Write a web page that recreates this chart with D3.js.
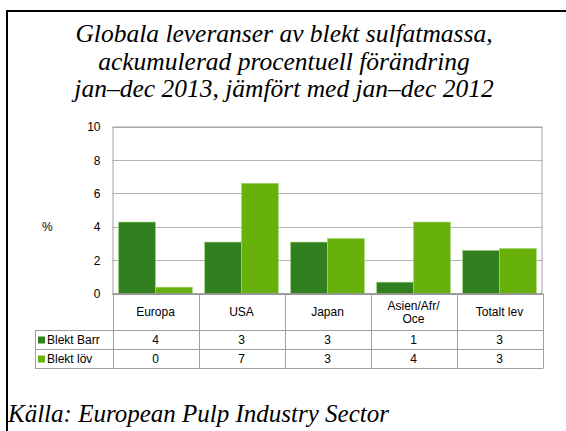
<!DOCTYPE html>
<html><head><meta charset="utf-8">
<script src="https://cdn.jsdelivr.net/npm/d3@7"></script>
</head><body>
<script>
const categories = ["Europa","USA","Japan","Asien/Afr/\nOce","Totalt lev"];
const seriesNames = ["Blekt Barr","Blekt löv"];
const barr = [4.28,3.08,3.08,0.68,2.58];
const lov = [0.38,6.6,3.3,4.28,2.7];
const tableBarr = ["4","3","3","1","3"];
const tableLov = ["0","7","3","4","3"];
const yTicks = [0,2,4,6,8,10];
const colors = ["#31801f","#68b00a"];
const titleLines = ["Globala leveranser av blekt sulfatmassa,","ackumulerad procentuell förändring","jan–dec 2013, jämfört med jan–dec 2012"];
const source = "Källa: European Pulp Industry Sector";

const SERIF='"Liberation Serif", "Tinos", "Times New Roman", serif';
const SANS='"Liberation Sans", Arial, sans-serif';
d3.select("body").style("margin","0px");
const svg=d3.select("body").append("svg").attr("width",566).attr("height",431)
 .style("display","block").attr("font-family",SANS);
svg.append("path").attr("d","M7,431 V11 H566").attr("fill","none").attr("stroke","#000").attr("stroke-width",2);

titleLines.forEach((d,i)=>{
 svg.append("text").attr("x",284).attr("y",42+i*27.5).attr("text-anchor","middle")
  .style("font-family",SERIF).style("font-style","italic").attr("font-size",25.5).text(d);
});
svg.append("text").attr("x",8).attr("y",422)
 .style("font-family",SERIF).style("font-style","italic").attr("font-size",25).text(source);

const pL=112.5,pR=542.5,pT=126.5,pB=293.5;
const x=d3.scaleBand().domain(d3.range(categories.length)).range([pL,pR]);
const y=d3.scaleLinear().domain([0,10]).range([pB,pT]);
const x1=d3.scaleBand().domain([0,1]).range([0,x.bandwidth()]).paddingOuter(0.166).paddingInner(0);

svg.append("g").selectAll("line").data(yTicks).join("line")
 .attr("x1",pL).attr("x2",pR).attr("y1",d=>Math.round(y(d))+0.5).attr("y2",d=>Math.round(y(d))+0.5)
 .attr("stroke","#b3b3b3").attr("stroke-width",1);

const yAxis=svg.append("g").attr("transform",`translate(${pL-12},0)`)
 .call(d3.axisLeft(y).tickValues(yTicks).tickSize(0).tickPadding(0));
yAxis.select(".domain").remove();
yAxis.attr("font-family",SANS).attr("font-size",12);
yAxis.selectAll("text").style("font-family",SANS).attr("fill","#000").attr("dy","0.35em");

svg.append("text").style("font-family",SANS).attr("font-size",12).attr("x",42).attr("y",231).text("%");

[barr,lov].forEach((vals,si)=>{
 svg.append("g").selectAll("rect").data(vals).join("rect")
  .attr("x",(d,i)=>x(i)+x1(si)).attr("width",x1.bandwidth())
  .attr("y",d=>y(d)).attr("height",d=>pB-y(d))
  .attr("fill",colors[si]).attr("stroke","#a6d77a").attr("stroke-width",0.6);
});

svg.append("rect").attr("x",pL+0.5).attr("y",pT+0.5).attr("width",pR-pL-1).attr("height",pB-pT)
 .attr("fill","none").attr("stroke","#a0a0a0").attr("stroke-width",1);
svg.append("line").attr("x1",pL).attr("x2",pR).attr("y1",pB+0.5).attr("y2",pB+0.5).attr("stroke","#909090").attr("stroke-width",1.5);

const tLeft=35,r1=330.5,r2=349.5,r3=368.5;
const tg=svg.append("g").attr("stroke","#a0a0a0").attr("stroke-width",1).attr("fill","none");
d3.range(categories.length+1).forEach(i=>{
 const xx=Math.round(i<categories.length?x(i):pR)+0.5;
 tg.append("line").attr("x1",xx).attr("x2",xx).attr("y1",pB).attr("y2",r3);
});
tg.append("line").attr("x1",tLeft+0.5).attr("x2",tLeft+0.5).attr("y1",r1).attr("y2",r3);
[r1,r2,r3].forEach(r=>tg.append("line").attr("x1",tLeft).attr("x2",pR+0.5).attr("y1",r).attr("y2",r));

categories.forEach((c,i)=>{
 const lines=c.split("\n");
 const cy=(pB+r1)/2;
 const t=svg.append("text").style("font-family",SANS).attr("font-size",12).attr("text-anchor","middle");
 lines.forEach((l,j)=>{
  t.append("tspan").attr("x",x(i)+x.bandwidth()/2).attr("y",cy+(j-(lines.length-1)/2)*13).attr("dy","0.35em").text(l);
 });
});
[tableBarr,tableLov].forEach((vals,si)=>{
 const ry=si===0?(r1+r2)/2:(r2+r3)/2;
 svg.append("g").selectAll("text").data(vals).join("text").style("font-family",SANS).attr("font-size",12)
  .attr("x",(d,i)=>x(i)+x.bandwidth()/2).attr("y",ry).attr("dy","0.35em").attr("text-anchor","middle").text(d=>d);
 svg.append("rect").attr("x",38).attr("y",ry-3.5).attr("width",7).attr("height",7).attr("fill",colors[si]);
 svg.append("text").style("font-family",SANS).attr("font-size",12).attr("x",47).attr("y",ry).attr("dy","0.35em").text(seriesNames[si]);
});
</script>
</body></html>
